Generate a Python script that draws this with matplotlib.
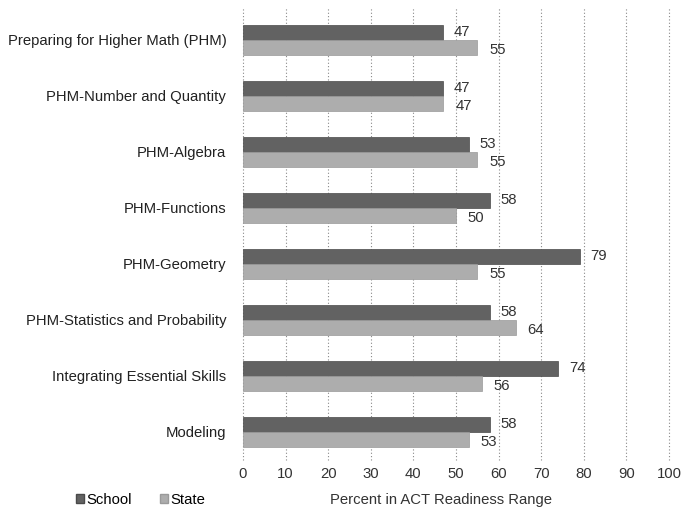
import matplotlib
matplotlib.use("Agg")
import matplotlib.pyplot as plt
import numpy as np
from matplotlib.patches import Patch

plt.rcParams['font.family'] = ['Liberation Sans', 'DejaVu Sans']

categories = ["Preparing for Higher Math (PHM)", "PHM-Number and Quantity", "PHM-Algebra",
              "PHM-Functions", "PHM-Geometry", "PHM-Statistics and Probability",
              "Integrating Essential Skills", "Modeling"]
school = [47, 47, 53, 58, 79, 58, 74, 58]
state = [55, 47, 55, 50, 55, 64, 56, 53]
xticks = [0, 10, 20, 30, 40, 50, 60, 70, 80, 90, 100]

fs = 10.7
fig = plt.figure(figsize=(6.96, 5.14), dpi=100)
ax = fig.add_axes([243/696, 1-460/514, (669-243)/696, (460-8)/514])

y = np.arange(len(categories))
h = 0.27
c_school = "#626262"
c_state = "#adadad"
ax.barh(y - h/2, school, height=h, color=c_school, edgecolor="#4a4a4a", linewidth=0.5, zorder=3)
ax.barh(y + h/2, state, height=h, color=c_state, edgecolor="#9a9a9a", linewidth=0.5, zorder=3)

for yi, v in zip(y, school):
    ax.text(v + 2.5, yi - h/2, str(v), va="center", ha="left", fontsize=fs, color="#333333")
for yi, v in zip(y, state):
    ax.text(v + 2.8, yi + h/2 + 0.04, str(v), va="center", ha="left", fontsize=fs, color="#333333")

ax.set_xlim(0, 100)
ax.set_ylim(7.5, -0.57)
ax.set_xticks(xticks)
ax.set_xticklabels([str(t) for t in xticks], fontsize=fs, color="#333333")
ax.set_yticks(y)
ax.set_yticklabels(categories, fontsize=fs, color="#222222")
ax.tick_params(axis="both", length=0)
ax.tick_params(axis="y", pad=12)
ax.tick_params(axis="x", pad=5)
for s in ax.spines.values():
    s.set_visible(False)
ax.grid(axis="x", linestyle=(0, (1, 2)), color="#888888", linewidth=0.8, zorder=0)
for gl in ax.get_xgridlines():
    gl.set_clip_on(False)

fig.text(441/696, 1-500/514, "Percent in ACT Readiness Range", ha="center", va="center",
         fontsize=fs, color="#333333")

handles = [Patch(facecolor=c_school, edgecolor="#4a4a4a", label="School"),
           Patch(facecolor=c_state, edgecolor="#9a9a9a", label="State")]
fig.legend(handles=handles, loc="center", bbox_to_anchor=(141/696, 1-500/514), ncol=2,
           frameon=False, fontsize=fs, handlelength=0.5, handleheight=0.5,
           handletextpad=0.2, columnspacing=1.9)

fig.savefig("out.png", dpi=100)
